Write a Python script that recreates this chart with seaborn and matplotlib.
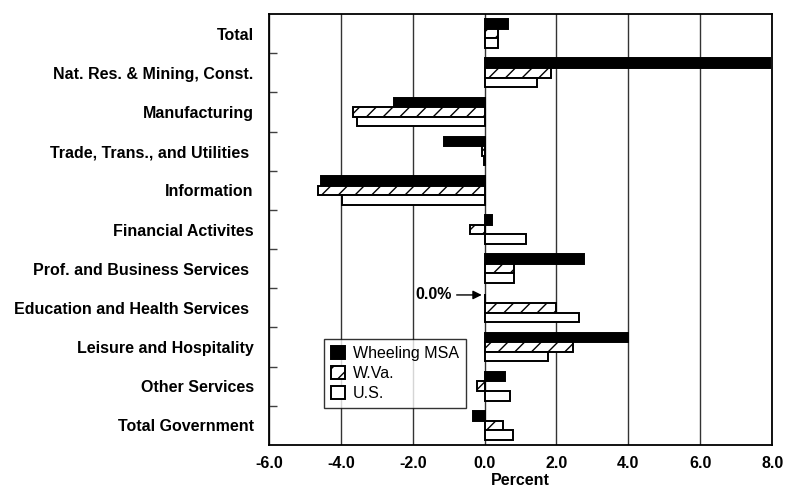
import numpy as np
import pandas as pd
import seaborn as sns
import matplotlib.pyplot as plt

CATEGORIES = ["Total", "Nat. Res. & Mining, Const.", "Manufacturing",
              "Trade, Trans., and Utilities ", "Information", "Financial Activites",
              "Prof. and Business Services ", "Education and Health Services ",
              "Leisure and Hospitality", "Other Services", "Total Government"]
SERIES = ["Wheeling MSA", "W.Va.", "U.S."]
WHEELING = [0.65, 7.95, -2.53, -1.14, -4.54, 0.21, 2.77, 0.0, 4.0, 0.57, -0.32]
WVA = [0.37, 1.86, -3.66, -0.07, -4.64, -0.41, 0.82, 1.99, 2.45, -0.21, 0.50]
US = [0.37, 1.47, -3.54, -0.03, -3.96, 1.14, 0.83, 2.64, 1.75, 0.70, 0.78]
XTICKS = [-6, -4, -2, 0, 2, 4, 6, 8]


def hbar_plot():
    sns.set_style("white")
    plt.rcParams['font.family'] = ['Liberation Sans', 'DejaVu Sans']
    plt.rcParams['hatch.linewidth'] = 1.0
    # seaborn greys the text, the original is plain black
    for key in ['text.color', 'axes.labelcolor', 'xtick.color', 'ytick.color']:
        plt.rcParams[key] = 'black'

    df = pd.DataFrame({
        "Industry": CATEGORIES * 3,
        "Series": [s for s in SERIES for _ in CATEGORIES],
        "Value": WHEELING + WVA + US,
    })

    fig = plt.figure(figsize=(7.87, 4.90), dpi=100)
    ax = fig.add_axes([0.3418, 0.0918, 0.6393, 0.8796])

    sns.barplot(data=df, x="Value", y="Industry", hue="Series", orient="h",
                palette=["black", "white", "white"], edgecolor="black",
                linewidth=1.4, width=0.73, ax=ax, legend=False, zorder=3)

    # W.Va. bars get the diagonal hatch
    for bar in ax.containers[1]:
        bar.set_hatch("//")

    ax.set_xlim(-6, 8)
    ax.set_xticks(XTICKS)
    ax.set_xticklabels([f"{v:.1f}" for v in XTICKS], fontsize=11.5, fontweight="bold")
    ax.set_ylim(len(CATEGORIES) - 0.5, -0.5)
    ax.grid(axis="x", color="#333333", linewidth=1.0, zorder=0)
    ax.set_axisbelow(True)

    ax.set_yticks(np.arange(len(CATEGORIES)))
    ax.set_yticklabels(CATEGORIES, fontsize=11.5, fontweight="bold")
    ax.set_yticks(np.arange(0.5, len(CATEGORIES) - 0.5, 1), minor=True)
    ax.tick_params(axis="y", which="major", length=0, pad=11)
    ax.tick_params(axis="y", which="minor", direction="in", length=6,
                   width=1, color="#404040", left=True)
    ax.tick_params(axis="x", length=0, pad=8)

    ax.set_xlabel("Percent", fontsize=11.5, fontweight="bold", labelpad=1)
    ax.set_ylabel("")

    for sp in ax.spines.values():
        sp.set_color("black")
        sp.set_linewidth(1.3)

    handles = [ax.containers[0][0], ax.containers[1][0], ax.containers[2][0]]
    leg = ax.legend(handles, SERIES, loc="upper left",
                    bbox_to_anchor=(0.109, 0.246), borderaxespad=0,
                    frameon=True, fancybox=False, fontsize=11.5,
                    handlelength=0.85, handleheight=0.85, handletextpad=0.5,
                    labelspacing=0.3, borderpad=0.45)
    leg.get_frame().set_edgecolor("black")
    leg.get_frame().set_linewidth(1.0)

    ax.annotate("0.0%", xy=(-0.08, 6.67), xytext=(-1.92, 6.67),
                fontsize=11.5, fontweight="bold", va="center", ha="left",
                arrowprops=dict(arrowstyle="-|>", color="black", lw=1,
                                mutation_scale=13, shrinkA=1, shrinkB=0))

    plt.savefig("out.png", dpi=100)
    plt.close()


if __name__ == "__main__":
    hbar_plot()
